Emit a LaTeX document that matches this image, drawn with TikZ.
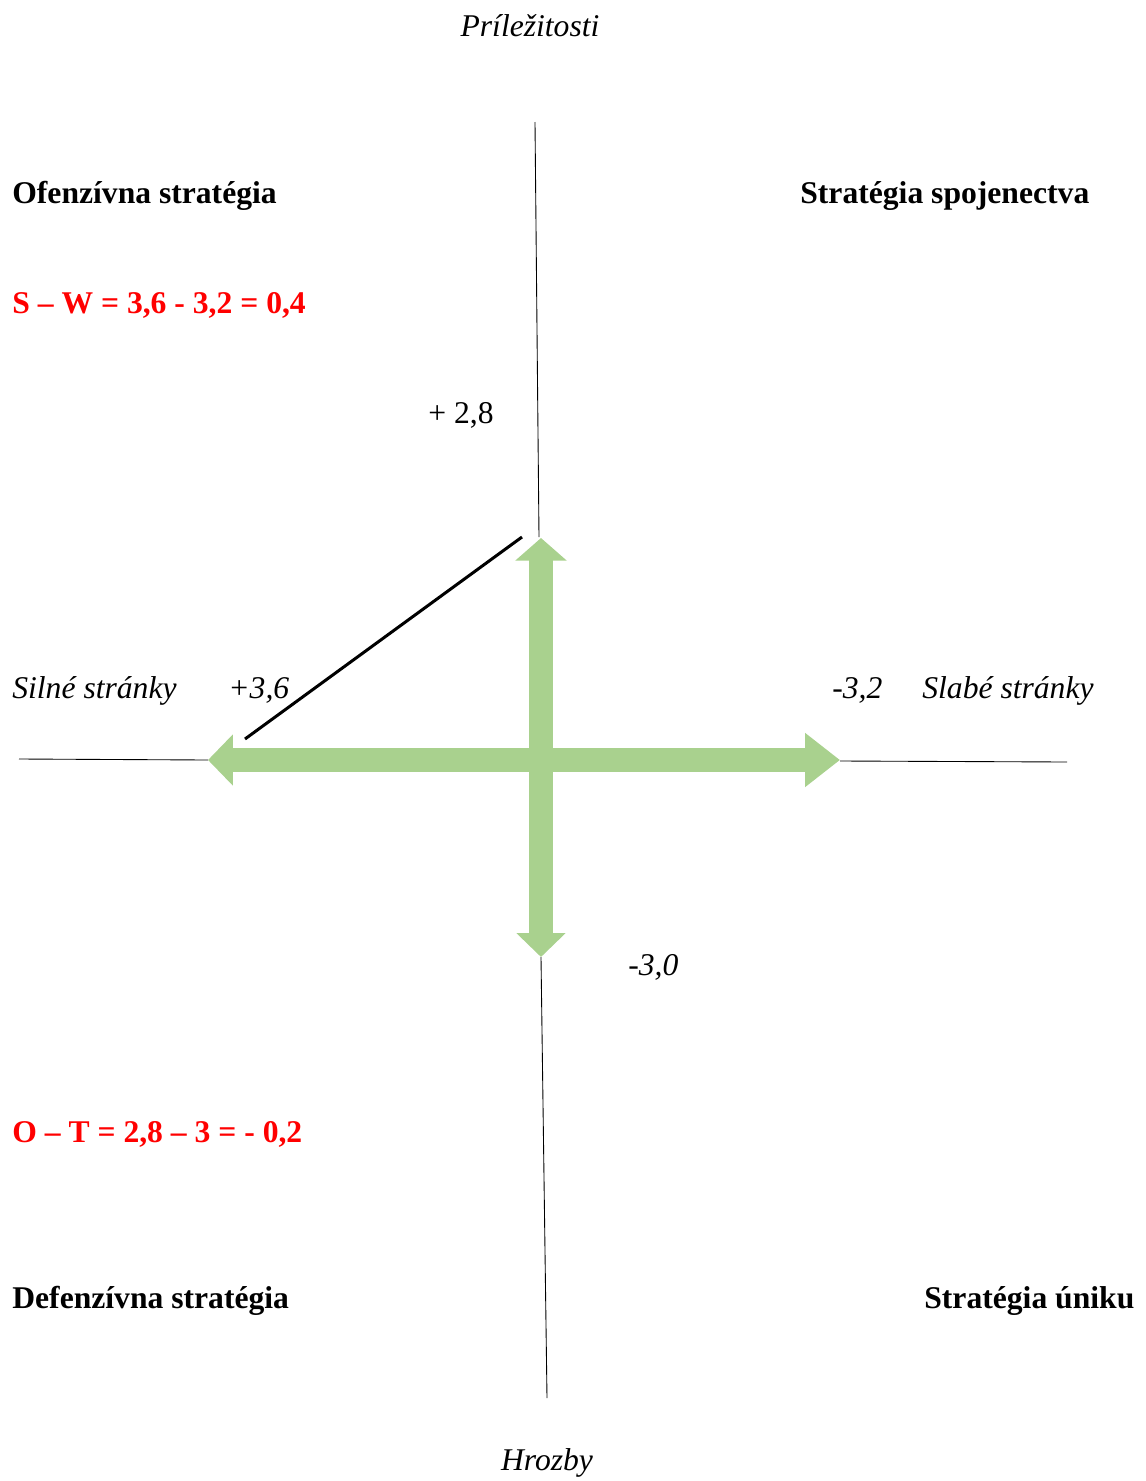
\documentclass[tikz,border=0pt]{standalone}
\usepackage{fontspec}
\setmainfont{Liberation Serif}
\usetikzlibrary{arrows.meta}
\definecolor{arrowgreen}{HTML}{A9D18E}
\definecolor{resultred}{HTML}{FF0000}

\begin{document}
\begin{tikzpicture}[x=0.02cm, y=-0.02cm]
    % Styles
    \tikzstyle{label} = [inner sep=0pt, font=\fontsize{18}{22}\selectfont]
    \tikzstyle{strategy} = [label, anchor=base west, font=\fontsize{18}{22}\selectfont\bfseries]
    \tikzstyle{result} = [strategy, text=resultred]
    \tikzstyle{axis} = [draw, black, line width=0.5pt]
    \tikzstyle{bigarrow} = [draw, arrowgreen, line width=0.48cm]
    \tikzstyle{line} = [draw, black, line width=0.06cm]

    \useasboundingbox (0,0) rectangle (1146,1481);

    % Axis ends
    \coordinate (otop) at (535,122);
    \coordinate (obot) at (539,537);
    \coordinate (ttop) at (541,957);
    \coordinate (tbot) at (547,1398);
    \coordinate (sleft) at (19,759);
    \coordinate (sright) at (208,760);
    \coordinate (wleft) at (840,761);
    \coordinate (wright) at (1067,762);

    % Arrow tips
    \coordinate (stip) at (208,760);
    \coordinate (wtip) at (840,760);
    \coordinate (otip) at (541,538);
    \coordinate (ttip) at (541,957);

    % Triangle line
    \coordinate (lstart) at (245,739);
    \coordinate (lend) at (522,537);

    % Nodes
    \node [label, anchor=base, font=\fontsize{18}{22}\selectfont\itshape] (opp) at (530,36) {Príležitosti};
    \node [label, anchor=base, font=\fontsize{18}{22}\selectfont\itshape] (thr) at (547,1470) {Hrozby};
    \node [strategy] (offensive) at (12,203) {Ofenzívna stratégia};
    \node [strategy] (alliance) at (800,203) {Stratégia spojenectva};
    \node [strategy] (defensive) at (12,1308) {Defenzívna stratégia};
    \node [strategy] (escape) at (924,1308) {Stratégia úniku};
    \node [result] (swcalc) at (12,313) {S – W = 3,6 - 3,2 = 0,4};
    \node [result] (otcalc) at (12,1142) {O – T = 2,8 – 3 = - 0,2};
    \node [label, anchor=base west] (oval) at (428,423) {+ 2,8};
    \node [label, anchor=base west, font=\fontsize{18}{22}\selectfont\itshape] (str) at (12,698) {Silné stránky};
    \node [label, anchor=base west, font=\fontsize{18}{22}\selectfont\itshape] (sval) at (228,698) {+3,6};
    \node [label, anchor=base west, font=\fontsize{18}{22}\selectfont\itshape] (wval) at (832,698) {-3,2};
    \node [label, anchor=base west, font=\fontsize{18}{22}\selectfont\itshape] (weak) at (922,698) {Slabé stránky};
    \node [label, anchor=base west, font=\fontsize{18}{22}\selectfont\itshape] (tval) at (628,975) {-3,0};

    % Paths
    \path [axis] (otop) -- (obot);
    \path [axis] (ttop) -- (tbot);
    \path [axis] (sleft) -- (sright);
    \path [axis] (wleft) -- (wright);
    \path [bigarrow, {Triangle[length=0.5cm, width=1.0cm]}-{Triangle[length=0.7cm, width=1.04cm]}] (stip) -- (wtip);
    \path [bigarrow, {Triangle[length=0.45cm, width=1.0cm]}-{Triangle[length=0.48cm, width=0.96cm]}] (otip) -- (ttip);
    \path [line] (lstart) -- (lend);
\end{tikzpicture}
\end{document}
